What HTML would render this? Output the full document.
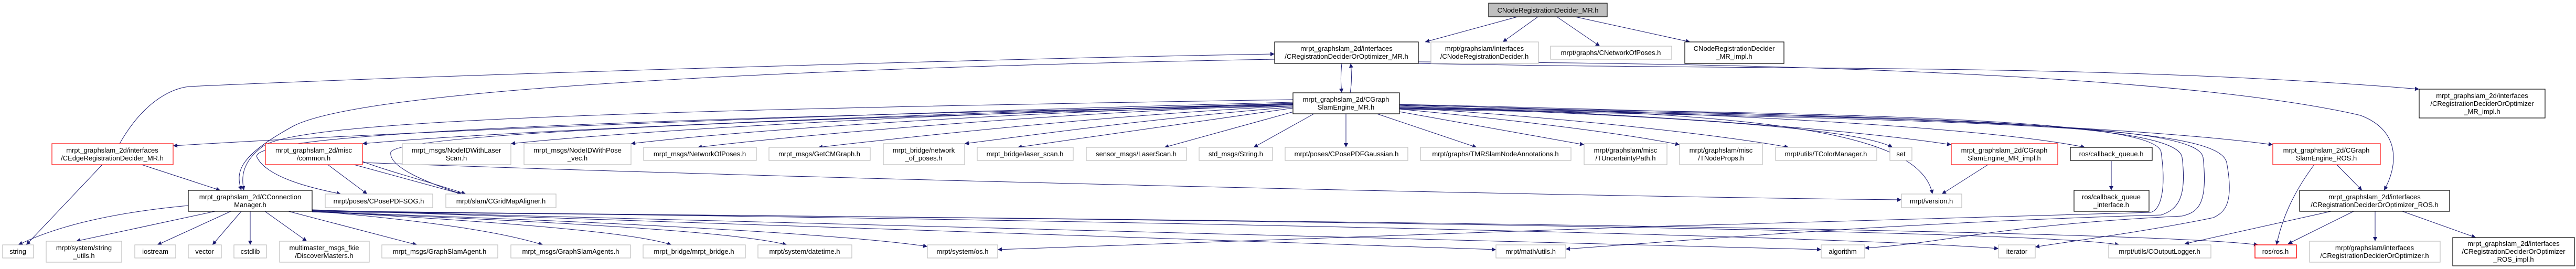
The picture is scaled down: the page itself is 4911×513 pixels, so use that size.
<!DOCTYPE html>
<html><head><meta charset="utf-8"><style>
html,body{margin:0;padding:0;background:#fff;}
svg{display:block;}
text{font-family:"Liberation Sans",sans-serif;font-size:13px;fill:#000;text-anchor:middle;}
.g{fill:#fff;stroke:#bfbfbf;stroke-width:1.2}
.b{fill:#fff;stroke:#000;stroke-width:1.2}
.r{fill:#fff;stroke:#ff3030;stroke-width:1.4}
.e{fill:none;stroke:#191970;stroke-width:1;marker-end:url(#a)}
</style></head><body>
<svg width="4911" height="513" viewBox="0 0 4911 513" xmlns="http://www.w3.org/2000/svg">
<defs><marker id="a" viewBox="0 0 10 10" refX="10" refY="5" markerWidth="10" markerHeight="8" markerUnits="userSpaceOnUse" orient="auto"><path d="M0,0 L10,5 L0,10 z" fill="#191970"/></marker></defs>
<g>
<path class="e" d="M2893,32 L2717,80"/>
<path class="e" d="M2932,32 L2865,80"/>
<path class="e" d="M2968,32 L3050,88"/>
<path class="e" d="M3003,32 L3222,80"/>
<path class="e" d="M2558,121 C2556,140 2556,160 2558,177"/>
<path class="e" d="M2574,177 C2577,160 2577,140 2575,121"/>
<path class="e" d="M228,274 C270,200 320,170 360,165 C900,140 2000,110 2430,103"/>
<path class="e" d="M2430,113 C1500,130 700,170 560,240 C450,300 450,330 460,363"/>
<path class="e" d="M2465,190 C1200,210 560,230 500,280 C460,310 460,340 465,363"/>
<path class="e" d="M2465,195 C1500,220 700,255 330,278"/>
<path class="e" d="M2465,197 C1500,225 900,255 691,274"/>
<path class="e" d="M2465,198 C1800,215 1200,250 974,274"/>
<path class="e" d="M2465,199 C1900,215 1400,250 1203,274"/>
<path class="e" d="M2465,200 C2000,215 1500,260 1330,281"/>
<path class="e" d="M2465,202 C2100,220 1700,265 1560,281"/>
<path class="e" d="M2465,204 C2200,225 1950,260 1839,274"/>
<path class="e" d="M2465,206 C2300,230 2050,265 1940,281"/>
<path class="e" d="M2470,212 L2220,281"/>
<path class="e" d="M2505,217 L2390,281"/>
<path class="e" d="M2566,217 L2566,281"/>
<path class="e" d="M2625,217 L2815,281"/>
<path class="e" d="M2668,213 L3020,276"/>
<path class="e" d="M2668,208 C2900,230 3100,255 3202,276"/>
<path class="e" d="M2668,205 C3000,225 3300,260 3410,281"/>
<path class="e" d="M2668,203 C3300,225 3550,250 3608,281"/>
<path class="e" d="M2668,201 C3200,220 3550,250 3720,276"/>
<path class="e" d="M2668,200 C3300,215 3800,245 3975,281"/>
<path class="e" d="M2668,199 C3600,220 4100,245 4333,276"/>
<path class="e" d="M2668,200 C3300,215 3660,240 3684,370"/>
<path class="e" d="M2465,200 C1000,230 470,260 490,300 C510,340 600,360 650,370"/>
<path class="e" d="M2465,202 C1300,230 760,260 745,290 C740,320 820,350 880,370"/>
<path class="e" d="M625,314 L700,370"/>
<path class="e" d="M675,314 L880,370"/>
<path class="e" d="M691,308 C750,330 830,350 888,370"/>
<path class="e" d="M691,310 C1500,340 3000,375 3625,381"/>
<path class="e" d="M3790,314 L3702,370"/>
<path class="e" d="M4025,307 L4025,363"/>
<path class="e" d="M4455,314 L4503,363"/>
<path class="e" d="M4412,314 C4370,370 4350,420 4340,467"/>
<path class="e" d="M2704,118 C3500,120 4200,150 4500,220 C4580,250 4570,320 4545,363"/>
<path class="e" d="M2704,121 C3400,135 4000,120 4612,170"/>
<path class="e" d="M4444,403 L4165,465"/>
<path class="e" d="M4487,403 L4362,465"/>
<path class="e" d="M4528,403 L4528,460"/>
<path class="e" d="M4580,403 L4720,453"/>
<path class="e" d="M195,314 L50,467"/>
<path class="e" d="M270,314 L420,363"/>
<path class="e" d="M359,392 C220,405 110,430 35,467"/>
<path class="e" d="M410,403 L145,460"/>
<path class="e" d="M440,403 L300,467"/>
<path class="e" d="M460,403 L405,467"/>
<path class="e" d="M477,403 L477,467"/>
<path class="e" d="M505,403 L585,460"/>
<path class="e" d="M550,403 L795,467"/>
<path class="e" d="M595,402 C800,420 950,440 1035,467"/>
<path class="e" d="M595,403 C900,420 1200,440 1280,467"/>
<path class="e" d="M595,404 C1000,420 1400,440 1500,467"/>
<path class="e" d="M595,404 C1100,420 1600,445 1768,470"/>
<path class="e" d="M595,400 C1500,430 2500,470 2852,476"/>
<path class="e" d="M595,401 C2000,430 3200,460 3472,476"/>
<path class="e" d="M595,402 C2200,420 3500,450 3810,474"/>
<path class="e" d="M595,403 C2500,420 3900,440 4040,467"/>
<path class="e" d="M595,404 C2600,420 4100,440 4305,467"/>
<path class="e" d="M2668,205 C3600,215 4110,230 4120,290 C4130,360 4120,400 4100,405 C3500,420 2200,460 1902,476"/>
<path class="e" d="M2668,206 C3700,220 4150,235 4160,300 C4170,380 4150,400 4120,410 C3600,425 3200,460 2985,475"/>
<path class="e" d="M2668,207 C3800,225 4190,240 4200,300 C4210,390 4190,405 4160,412 C3800,430 3700,465 3555,473"/>
<path class="e" d="M2668,208 C3900,230 4230,245 4245,310 C4260,390 4240,405 4220,415 C4100,440 3950,460 3880,471"/>
</g>
<g>
<rect x="2838" y="6" width="226" height="26" style="fill:#bfbfbf;stroke:#000;stroke-width:1.2"/><text x="2951" y="24">CNodeRegistrationDecider_MR.h</text>
<rect class="b" x="2430" y="80" width="274" height="41"/><text x="2567" y="97">mrpt_graphslam_2d/interfaces</text><text x="2567" y="112">/CRegistrationDeciderOrOptimizer_MR.h</text>
<rect class="g" x="2728" y="80" width="205" height="41"/><text x="2830" y="97">mrpt/graphslam/interfaces</text><text x="2830" y="112">/CNodeRegistrationDecider.h</text>
<rect class="g" x="2956" y="88" width="231" height="25"/><text x="3071" y="105">mrpt/graphs/CNetworkOfPoses.h</text>
<rect class="b" x="3212" y="80" width="189" height="41"/><text x="3306" y="97">CNodeRegistrationDecider</text><text x="3306" y="112">_MR_impl.h</text>
<rect class="b" x="2465" y="177" width="203" height="40"/><text x="2566" y="194">mrpt_graphslam_2d/CGraph</text><text x="2566" y="209">SlamEngine_MR.h</text>
<rect class="b" x="4612" y="170" width="240" height="55"/><text x="4732" y="187">mrpt_graphslam_2d/interfaces</text><text x="4732" y="202">/CRegistrationDeciderOrOptimizer</text><text x="4732" y="217">_MR_impl.h</text>

<rect class="r" x="99" y="274" width="231" height="40"/><text x="214" y="291">mrpt_graphslam_2d/interfaces</text><text x="214" y="306">/CEdgeRegistrationDecider_MR.h</text>
<rect class="r" x="506" y="274" width="185" height="40"/><text x="598" y="291">mrpt_graphslam_2d/misc</text><text x="598" y="306">/common.h</text>
<rect class="g" x="767" y="274" width="207" height="40"/><text x="870" y="291">mrpt_msgs/NodeIDWithLaser</text><text x="870" y="306">Scan.h</text>
<rect class="g" x="999" y="274" width="204" height="40"/><text x="1101" y="291">mrpt_msgs/NodeIDWithPose</text><text x="1101" y="306">_vec.h</text>
<rect class="g" x="1227" y="281" width="215" height="25"/><text x="1334" y="298">mrpt_msgs/NetworkOfPoses.h</text>
<rect class="g" x="1466" y="281" width="193" height="25"/><text x="1562" y="298">mrpt_msgs/GetCMGraph.h</text>
<rect class="g" x="1684" y="274" width="155" height="40"/><text x="1761" y="291">mrpt_bridge/network</text><text x="1761" y="306">_of_poses.h</text>
<rect class="g" x="1863" y="281" width="183" height="25"/><text x="1954" y="298">mrpt_bridge/laser_scan.h</text>
<rect class="g" x="2071" y="281" width="191" height="25"/><text x="2166" y="298">sensor_msgs/LaserScan.h</text>
<rect class="g" x="2286" y="281" width="140" height="25"/><text x="2356" y="298">std_msgs/String.h</text>
<rect class="g" x="2450" y="281" width="234" height="25"/><text x="2567" y="298">mrpt/poses/CPosePDFGaussian.h</text>
<rect class="g" x="2708" y="281" width="287" height="25"/><text x="2851" y="298">mrpt/graphs/TMRSlamNodeAnnotations.h</text>
<rect class="g" x="3020" y="274" width="158" height="40"/><text x="3099" y="291">mrpt/graphslam/misc</text><text x="3099" y="306">/TUncertaintyPath.h</text>
<rect class="g" x="3202" y="274" width="158" height="40"/><text x="3281" y="291">mrpt/graphslam/misc</text><text x="3281" y="306">/TNodeProps.h</text>
<rect class="g" x="3385" y="281" width="193" height="25"/><text x="3481" y="298">mrpt/utils/TColorManager.h</text>
<rect class="g" x="3603" y="281" width="42" height="25"/><text x="3624" y="298">set</text>
<rect class="r" x="3720" y="274" width="203" height="40"/><text x="3821" y="291">mrpt_graphslam_2d/CGraph</text><text x="3821" y="306">SlamEngine_MR_impl.h</text>
<rect class="b" x="3947" y="281" width="156" height="25"/><text x="4025" y="298">ros/callback_queue.h</text>
<rect class="r" x="4333" y="274" width="205" height="40"/><text x="4435" y="291">mrpt_graphslam_2d/CGraph</text><text x="4435" y="306">SlamEngine_ROS.h</text>

<rect class="b" x="359" y="363" width="236" height="40"/><text x="477" y="380">mrpt_graphslam_2d/CConnection</text><text x="477" y="395">Manager.h</text>
<rect class="g" x="620" y="370" width="205" height="26"/><text x="722" y="388">mrpt/poses/CPosePDFSOG.h</text>
<rect class="g" x="850" y="370" width="210" height="26"/><text x="955" y="388">mrpt/slam/CGridMapAligner.h</text>
<rect class="g" x="3625" y="370" width="115" height="26"/><text x="3682" y="388">mrpt/version.h</text>
<rect class="b" x="3954" y="363" width="143" height="40"/><text x="4025" y="380">ros/callback_queue</text><text x="4025" y="395">_interface.h</text>
<rect class="b" x="4384" y="363" width="286" height="40"/><text x="4527" y="380">mrpt_graphslam_2d/interfaces</text><text x="4527" y="395">/CRegistrationDeciderOrOptimizer_ROS.h</text>

<rect class="g" x="5" y="467" width="59" height="25"/><text x="34" y="484">string</text>
<rect class="g" x="88" y="460" width="144" height="40"/><text x="160" y="477">mrpt/system/string</text><text x="160" y="492">_utils.h</text>
<rect class="g" x="257" y="467" width="78" height="25"/><text x="296" y="484">iostream</text>
<rect class="g" x="359" y="467" width="63" height="25"/><text x="390" y="484">vector</text>
<rect class="g" x="446" y="467" width="62" height="25"/><text x="477" y="484">cstdlib</text>
<rect class="g" x="533" y="460" width="171" height="40"/><text x="618" y="477">multimaster_msgs_fkie</text><text x="618" y="492">/DiscoverMasters.h</text>
<rect class="g" x="728" y="467" width="221" height="25"/><text x="838" y="484">mrpt_msgs/GraphSlamAgent.h</text>
<rect class="g" x="974" y="467" width="228" height="25"/><text x="1088" y="484">mrpt_msgs/GraphSlamAgents.h</text>
<rect class="g" x="1226" y="467" width="195" height="25"/><text x="1323" y="484">mrpt_bridge/mrpt_bridge.h</text>
<rect class="g" x="1445" y="467" width="179" height="25"/><text x="1534" y="484">mrpt/system/datetime.h</text>
<rect class="g" x="1768" y="467" width="134" height="25"/><text x="1835" y="484">mrpt/system/os.h</text>
<rect class="g" x="2852" y="467" width="133" height="25"/><text x="2918" y="484">mrpt/math/utils.h</text>
<rect class="g" x="3472" y="467" width="83" height="25"/><text x="3513" y="484">algorithm</text>
<rect class="g" x="3810" y="467" width="70" height="25"/><text x="3845" y="484">iterator</text>
<rect class="g" x="4020" y="467" width="195" height="25"/><text x="4117" y="484">mrpt/utils/COutputLogger.h</text>
<rect class="r" x="4299" y="467" width="79" height="25" style="stroke:#f00"/><text x="4338" y="484">ros/ros.h</text>
<rect class="g" x="4403" y="460" width="249" height="40"/><text x="4527" y="477">mrpt/graphslam/interfaces</text><text x="4527" y="492">/CRegistrationDeciderOrOptimizer.h</text>
<rect class="b" x="4676" y="453" width="232" height="54"/><text x="4792" y="469">mrpt_graphslam_2d/interfaces</text><text x="4792" y="484">/CRegistrationDeciderOrOptimizer</text><text x="4792" y="499">_ROS_impl.h</text>
</g>
</svg>
</body></html>
